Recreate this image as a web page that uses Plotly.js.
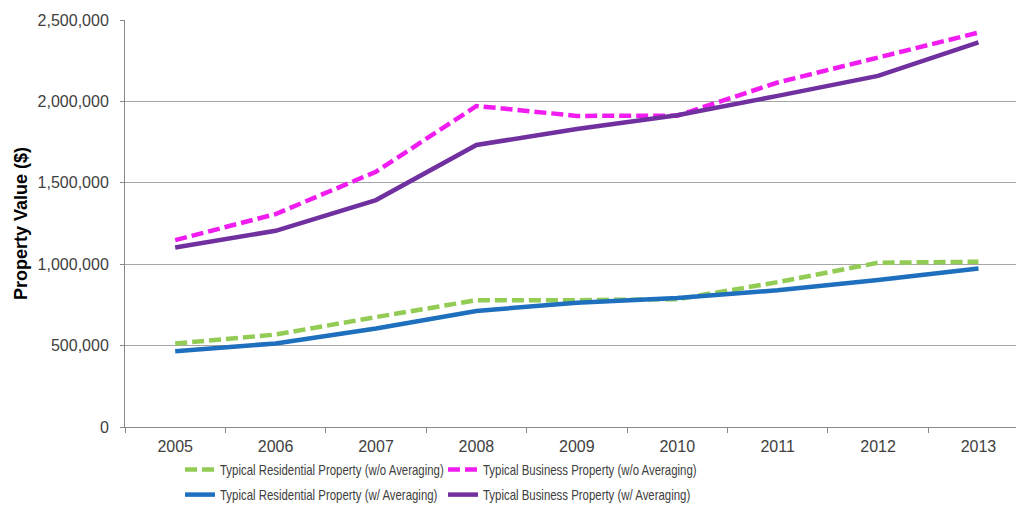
<!DOCTYPE html>
<html>
<head>
<meta charset="utf-8">
<script src="https://cdn.plot.ly/plotly-3.0.1.min.js"></script>
<style>
html,body{margin:0;padding:0;background:#fff;}
#chart{width:1016px;height:506px;}
/* reference legend uses a narrow face: condense the labels horizontally */
#chart text.legendtext, #chart text.legend2text{transform:scaleX(0.816);transform-box:fill-box;transform-origin:0 50%;}
</style>
</head>
<body>
<div id="chart"></div>
<script>
var years = ['2005','2006','2007','2008','2009','2010','2011','2012','2013'];
var residentialNoAvg = [513000, 568000, 675000, 779000, 779000, 785000, 890000, 1009000, 1015000];
var businessNoAvg = [1148000, 1308000, 1568000, 1972000, 1911000, 1912000, 2116000, 2266000, 2423000];
var residentialAvg = [466000, 513000, 605000, 713000, 763000, 792000, 840000, 903000, 974000];
var businessAvg = [1103000, 1205000, 1394000, 1732000, 1831000, 1915000, 2034000, 2157000, 2362000];
var seriesNames = [
  'Typical Residential Property (w/o Averaging)',
  'Typical Business Property (w/o Averaging)',
  'Typical Residential Property (w/ Averaging)',
  'Typical Business Property (w/ Averaging)'
];

var traces = [
  {x: years, y: residentialNoAvg, name: seriesNames[0], type: 'scatter', mode: 'lines',
   line: {color: '#92cc54', width: 4.5, dash: '12px,5px'}, legend: 'legend'},
  {x: years, y: businessNoAvg, name: seriesNames[1], type: 'scatter', mode: 'lines',
   line: {color: '#f01cf0', width: 4.5, dash: '12px,5px'}, legend: 'legend'},
  {x: years, y: residentialAvg, name: seriesNames[2], type: 'scatter', mode: 'lines',
   line: {color: '#1e6fbe', width: 4.5}, legend: 'legend2'},
  {x: years, y: businessAvg, name: seriesNames[3], type: 'scatter', mode: 'lines',
   line: {color: '#7030a0', width: 4.5}, legend: 'legend2'}
];

var fontFam = 'Liberation Sans, Arial, sans-serif';
var legendCommon = {
  orientation: 'h', xref: 'container', yref: 'container',
  xanchor: 'left', yanchor: 'middle',
  entrywidth: 218, entrywidthmode: 'pixels',
  font: {family: fontFam, size: 14, color: '#404040'},
  bgcolor: 'rgba(0,0,0,0)', itemwidth: 30, tracegroupgap: 0
};

var layout = {
  width: 1016, height: 506,
  margin: {l: 125, r: 0, t: 20, b: 79},
  paper_bgcolor: '#ffffff', plot_bgcolor: '#ffffff',
  font: {family: fontFam, size: 13, color: '#404040'},
  showlegend: true,
  legend: Object.assign({}, legendCommon, {x: 180/1016, y: 1 - 470/506}),
  legend2: Object.assign({}, legendCommon, {x: 180/1016, y: 1 - 495/506}),
  xaxis: {
    type: 'category',
    range: [-0.5, 8.374],
    showgrid: false,
    showline: true, linecolor: '#8a8a8a', linewidth: 1,
    ticks: 'outside', tickson: 'boundaries', ticklen: 5, tickcolor: '#8a8a8a',
    ticklabelstandoff: 5,
    tickfont: {family: fontFam, size: 16, color: '#404040'},
    zeroline: false, fixedrange: true
  },
  yaxis: {
    range: [0, 2500000],
    tickvals: [0, 500000, 1000000, 1500000, 2000000, 2500000],
    tickformat: ',d',
    showgrid: true, gridcolor: '#a6a6a6', gridwidth: 1,
    showline: true, linecolor: '#8a8a8a', linewidth: 1,
    ticks: 'outside', ticklen: 4, tickcolor: '#8a8a8a',
    ticklabelstandoff: 8,
    tickfont: {family: fontFam, size: 16, color: '#404040'},
    zeroline: false, fixedrange: true,
    title: {text: '<b>Property Value ($)</b>', font: {family: fontFam, size: 18, color: '#000000'}, standoff: 5}
  }
};

Plotly.newPlot('chart', traces, layout, {displayModeBar: false, staticPlot: true});
</script>
</body>
</html>
